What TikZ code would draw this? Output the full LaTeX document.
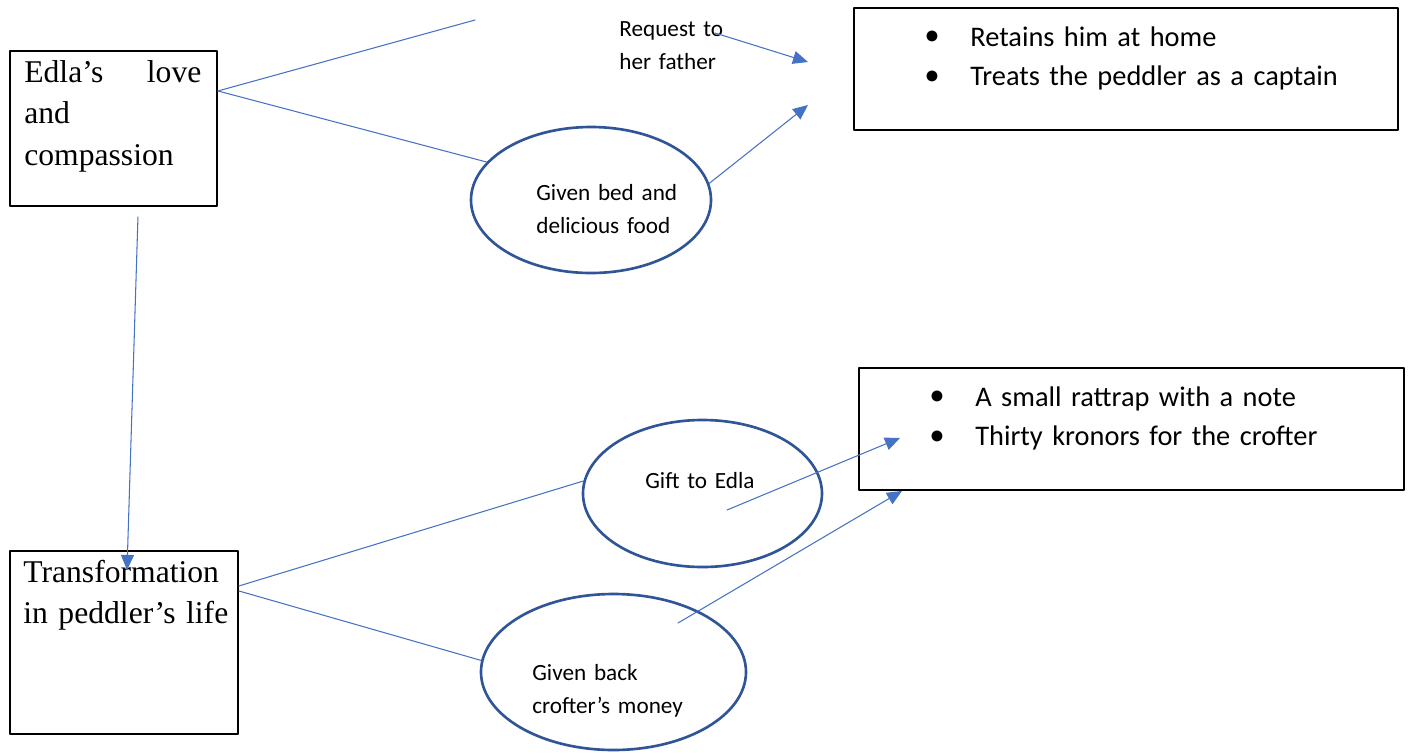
\documentclass[tikz,border=0pt]{standalone}
\usepackage{fontspec}
\setmainfont{Liberation Serif}
\newfontfamily\calibri{Carlito}
\usetikzlibrary{shapes.geometric,arrows.meta}
\definecolor{linkblue}{RGB}{68,114,196}
\definecolor{ovalblue}{RGB}{47,85,151}
\newcommand{\headfont}{\fontsize{18}{23.8}\selectfont\spaceskip=2.6pt\relax}
\tikzset{framebox/.style={draw=black,line width=1.1pt,rectangle,inner sep=0pt,anchor=north west},
 oval/.style={ellipse,draw=ovalblue,line width=1.5pt,inner sep=0pt},
 link/.style={draw=linkblue,line width=.6pt},
 pointer/.style={link,-{Triangle[length=.3cm,width=.26cm]}},
 headtext/.style={font=\headfont,align=left,anchor=base west,inner sep=0pt},
 smalltext/.style={font=\calibri\fontsize{13.2}{19}\selectfont,align=left,anchor=base west,inner sep=0pt},
 listtext/.style={font=\calibri\fontsize{16.15}{22.7}\selectfont,align=left,anchor=base west,inner sep=0pt,text width=9.3cm},
 every picture/.style={line join=round,line cap=round}}
\newcommand{\listitem}{\makebox[.92cm][l]{\rmfamily\raisebox{-.2em}{\scalebox{1.6}{\textbullet}}}}
\begin{document}
\begin{tikzpicture}
\useasboundingbox (0,0) rectangle (28.16,-15.06);
% boxes
\node[framebox,minimum width=4.14cm,minimum height=3.1cm] (love) at (0.18,-1.00) {};
\node[headtext,text width=3.54cm] (lovetext) at (0.48,-1.64) {Edla’s\hfill love\\and\\compassion};
\node[framebox,minimum width=4.56cm,minimum height=3.66cm] (life) at (0.18,-11.00) {};
\node[headtext,text width=4.2cm] (lifetext) at (0.46,-11.64) {Transformation\\in peddler’s life};
\node[framebox,minimum width=10.88cm,minimum height=2.44cm] (home) at (17.06,-0.14) {};
\node[listtext] (hometext) at (18.48,-0.92) {\listitem Retains him at home\\\listitem Treats the peddler as a captain};
\node[framebox,minimum width=10.90cm,minimum height=2.44cm] (gifts) at (17.16,-7.34) {};
\node[listtext] (giftstext) at (18.58,-8.12) {\listitem A small rattrap with a note\\\listitem Thirty kronors for the crofter};
% ellipses
\node[oval,minimum width=4.8cm,minimum height=2.92cm] (bed) at (11.82,-4.00) {};
\node[oval,minimum width=4.78cm,minimum height=2.94cm] (gift) at (14.05,-9.87) {};
\node[oval,minimum width=5.3cm,minimum height=3.12cm] (money) at (12.27,-13.44) {};
\node[smalltext,text width=3cm] (req) at (12.38,-0.72) {Request to\\her father};
\node[smalltext,text width=3.5cm] (bedtext) at (10.72,-4.00) {Given bed and\\delicious food};
\node[smalltext,text width=3cm] (gifttext) at (12.90,-9.76) {Gift to Edla};
\node[smalltext,text width=3.5cm] (moneytext) at (10.64,-13.60) {Given back\\crofter’s money};
% free ends
\coordinate (topend) at (9.50,-0.40);
\coordinate (reqtip) at (16.16,-1.24);
\coordinate (bedtip) at (16.16,-2.10);
\coordinate (downtip) at (2.54,-11.40);
% connectors
\draw[link] ([yshift=.75cm]love.east) -- (topend);
\draw[link] ([yshift=.75cm]love.east) -- (bed.160);
\draw[pointer] ([xshift=1.92cm,yshift=.06cm]req.base west) -- (reqtip);
\draw[pointer] (bed.8) -- (bedtip);
\draw[pointer] ([xshift=.49cm,yshift=-.2cm]love.south) -- (downtip);
\draw[link] ([yshift=1.13cm]life.east) -- (gift.174);
\draw[link] ([yshift=1.03cm]life.east) -- (money.175);
\draw[pointer] ([xshift=.49cm,yshift=-.33cm]gift.center) -- ([xshift=.84cm,yshift=-.18cm]gifts.west);
\draw[pointer] ([xshift=1.29cm,yshift=.98cm]money.center) -- ([xshift=.88cm]gifts.south west);
\end{tikzpicture}
\end{document}
